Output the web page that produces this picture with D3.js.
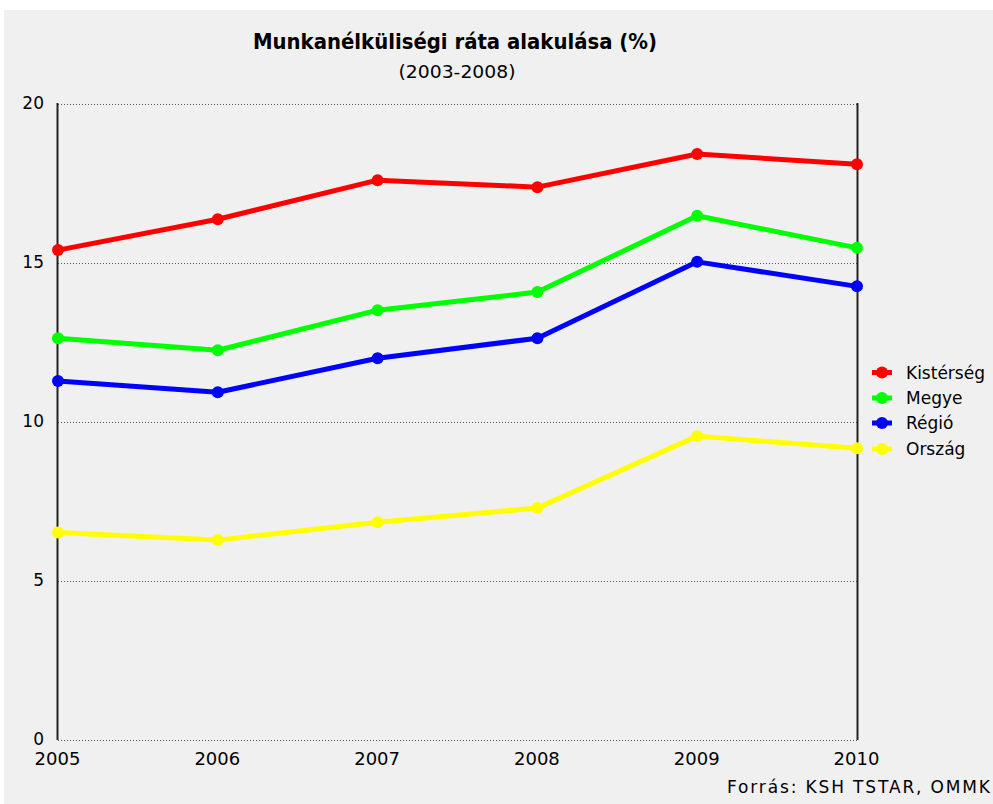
<!DOCTYPE html>
<html><head><meta charset="utf-8">
<script src="https://cdn.jsdelivr.net/npm/d3@7"></script>
<style>
html,body{margin:0;padding:0;background:#fff;}
svg{display:block;}
</style></head>
<body>
<script>
const years = ["2005","2006","2007","2008","2009","2010"];
const seriesNames = ["Kistérség","Megye","Régió","Ország"];
const seriesColors = ["#ff0000","#00ff00","#0000ff","#ffff00"];
const kisterseg = [15.39, 16.36, 17.59, 17.37, 18.41, 18.09];
const megye = [12.62, 12.24, 13.50, 14.07, 16.47, 15.46];
const regio = [11.27, 10.92, 11.99, 12.62, 15.02, 14.25];
const orszag = [6.51, 6.27, 6.83, 7.28, 9.54, 9.16];
const yTicks = [0, 5, 10, 15, 20];
const titleText = "Munkanélküliségi ráta alakulása (%)";
const subtitleText = "(2003-2008)";
const sourceText = "Forrás: KSH TSTAR, OMMK";

const seriesValues = [kisterseg, megye, regio, orszag];
const W = 993, H = 804;
const FONT = "DejaVu Sans, Verdana, sans-serif";
const svg = d3.select("body").append("svg").attr("width", W).attr("height", H);
svg.append("rect").attr("x",4).attr("y",10).attr("width",W-4).attr("height",H-10).attr("fill","#f0f0f0");

const x = d3.scalePoint().domain(years).range([58, 857]);
const y = d3.scaleLinear().domain([0, 20]).range([739.5, 103.5]);

// grid
const grid = svg.append("g");
grid.selectAll("line").data(yTicks).join("line")
  .attr("x1", 58).attr("x2", 857)
  .attr("y1", d => Math.round(y(d)) + 0.5).attr("y2", d => Math.round(y(d)) + 0.5)
  .attr("stroke", "#555").attr("stroke-width", 1).attr("stroke-dasharray", "1,2");

// y axis labels
const yAxis = d3.axisLeft(y).tickValues(yTicks).tickSize(0).tickPadding(14);
const gy = svg.append("g").attr("transform", "translate(58,0)").call(yAxis);
gy.select(".domain").remove();
gy.selectAll("text").attr("font-family",FONT).attr("font-size",17).attr("fill","#000").attr("dy","0.32em");

// x axis labels
const xAxis = d3.axisBottom(x).tickSize(0).tickPadding(12);
const gx = svg.append("g").attr("transform", "translate(-1,740)").call(xAxis);
gx.select(".domain").remove();
gx.selectAll("text").attr("font-family",FONT).attr("font-size",18).attr("fill","#000");

// vertical frame lines
svg.append("line").attr("x1",57.5).attr("x2",57.5).attr("y1",103).attr("y2",740).attr("stroke","#222").attr("stroke-width",2);
svg.append("line").attr("x1",857.5).attr("x2",857.5).attr("y1",103).attr("y2",740).attr("stroke","#222").attr("stroke-width",2);

// lines
const line = d3.line().x((d,i) => x(years[i])).y(d => y(d));
const plot = svg.append("g");
seriesValues.forEach((vals, si) => {
  plot.append("path").datum(vals).attr("d", line).attr("fill","none")
    .attr("stroke", seriesColors[si]).attr("stroke-width", 5).attr("stroke-linejoin","round");
  plot.selectAll(null).data(vals).join("circle")
    .attr("cx", (d,i) => x(years[i])).attr("cy", d => y(d)).attr("r", 6)
    .attr("fill", seriesColors[si]);
});

// title
svg.append("text").attr("x", 455).attr("y", 49).attr("text-anchor","middle")
  .attr("font-family",FONT).attr("font-weight","bold").attr("font-size",21)
  .attr("textLength",404).attr("lengthAdjust","spacingAndGlyphs")
  .attr("fill","#000").text(titleText);
svg.append("text").attr("x", 457).attr("y", 78).attr("text-anchor","middle")
  .attr("font-family",FONT).attr("font-size",17)
  .attr("textLength",117).attr("lengthAdjust","spacingAndGlyphs")
  .attr("fill","#000").text(subtitleText);

// source
svg.append("text").attr("x", 990).attr("y", 793).attr("text-anchor","end")
  .attr("font-family",FONT).attr("font-size",17)
  .attr("textLength",263).attr("lengthAdjust","spacing")
  .attr("fill","#000").text(sourceText);

// legend
const legendY = [372.5, 398, 423, 449];
const lg = svg.append("g");
seriesNames.forEach((name, i) => {
  lg.append("line").attr("x1", 872).attr("x2", 892).attr("y1", legendY[i]).attr("y2", legendY[i])
    .attr("stroke", seriesColors[i]).attr("stroke-width", 5);
  lg.append("circle").attr("cx", 882).attr("cy", legendY[i]).attr("r", 6).attr("fill", seriesColors[i]);
  lg.append("text").attr("x", 906).attr("y", legendY[i]).attr("dy","0.36em")
    .attr("font-family",FONT).attr("font-size",17)
    .attr("fill","#000").text(name);
});
</script>
</body></html>
